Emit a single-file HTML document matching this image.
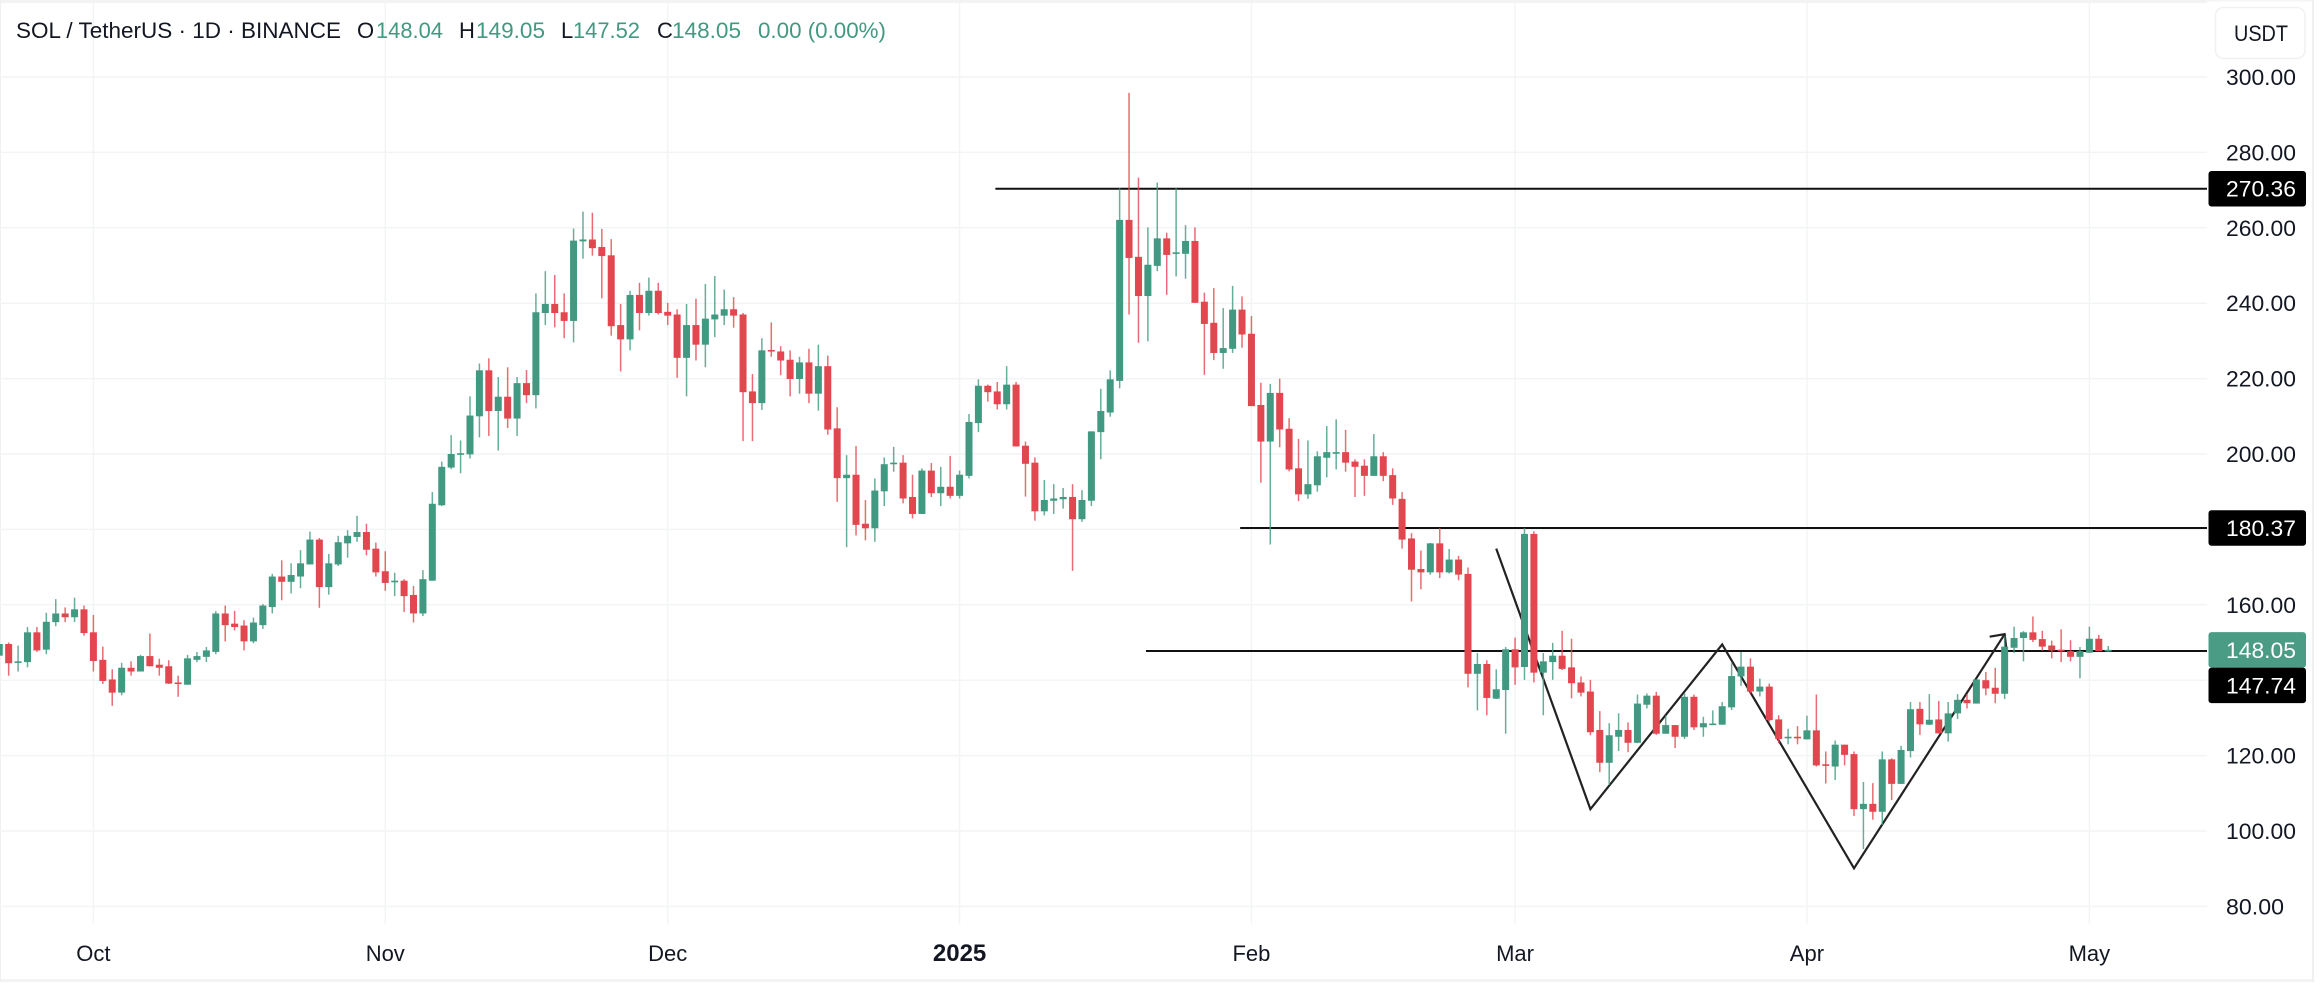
<!DOCTYPE html>
<html lang="en">
<head>
<meta charset="utf-8">
<title>SOL / TetherUS 1D chart</title>
<style>
html,body{margin:0;padding:0;background:#fff;width:2322px;height:988px;overflow:hidden}
svg{display:block;font-family:"Liberation Sans",sans-serif;filter:blur(0.35px)}
</style>
</head>
<body>
<svg id="chart" xmlns="http://www.w3.org/2000/svg" width="2322" height="988" viewBox="0 0 2322 988">
  <rect x="0" y="0" width="2322" height="988" fill="#ffffff"/>
  <rect x="0" y="0" width="2207" height="3" fill="#f3f3f3"/>
  <rect x="2207" y="0" width="106" height="1.5" fill="#f5f5f5"/>
  <rect x="0" y="979" width="2313" height="3" fill="#f3f3f3"/>
  <rect x="0" y="0" width="1" height="982" fill="#f0f0f0"/>
  <rect x="2312" y="0" width="2" height="982" fill="#f0f0f0"/>
  <g id="grid"></g>
  <g id="drawings"></g>
  <g id="candles"></g>
  <g id="yaxis"></g>
  <g id="xaxis"></g>

  <g font-size="22">
    <text x="16" y="38" fill="#131722" textLength="325" lengthAdjust="spacingAndGlyphs">SOL / TetherUS · 1D · BINANCE</text>
    <text x="357" y="38" fill="#131722">O</text>
    <text x="376" y="38" fill="#429981" textLength="67" lengthAdjust="spacingAndGlyphs">148.04</text>
    <text x="459" y="38" fill="#131722">H</text>
    <text x="476" y="38" fill="#429981" textLength="69" lengthAdjust="spacingAndGlyphs">149.05</text>
    <text x="561" y="38" fill="#131722">L</text>
    <text x="573" y="38" fill="#429981" textLength="67" lengthAdjust="spacingAndGlyphs">147.52</text>
    <text x="657" y="38" fill="#131722">C</text>
    <text x="672" y="38" fill="#429981" textLength="69" lengthAdjust="spacingAndGlyphs">148.05</text>
    <text x="758" y="38" fill="#429981" textLength="128" lengthAdjust="spacingAndGlyphs">0.00 (0.00%)</text>
  </g>

  <g>
    <rect x="2215.5" y="7.5" width="89.5" height="51" rx="8" fill="#ffffff" stroke="#f0f1f3" stroke-width="1.5"/>
    <text x="2234" y="41" font-size="22" fill="#131722" textLength="54" lengthAdjust="spacingAndGlyphs">USDT</text>
  </g>
</svg>

<script>
const opens = [146.5,149.6,144.8,144.8,152.7,148.1,155.4,157.7,156.7,158.8,
152.7,145.4,140.2,136.7,143.3,142.3,146.4,144.1,143.7,139.4,
138.8,145.4,146.2,147.5,157.7,155,154.5,150.3,154.6,159.4,
167.5,166.1,167.5,170.7,177.3,164.7,170.7,176.3,178,179.3,
174.9,168.9,166.1,166.4,162.6,157.7,166.4,186.4,196.4,199.9,
199.9,210,222.2,211.4,215.2,209.4,218.8,215.6,237.4,239.8,
237.6,235.3,256.4,256.9,254.9,252.7,234.2,230.4,242.2,237.4,
243.3,237.7,237,225.5,234.2,229,235.7,236.7,238.4,237,
216.6,213.5,227.6,227.2,225,219.9,224.3,216,223.3,206.8,
193.6,194.5,181.5,180.3,190.1,197.4,197.7,188.6,184.1,195.6,
189.6,191.3,188.9,194.2,208.2,218.1,216.6,213.2,218.4,202.2,
197.7,184.8,187.6,188,188.6,182.7,187.6,205.8,211,219.4,
262.1,252.3,241.9,249.9,257.2,253.1,253.1,256.5,240.4,234.8,
226.8,227.9,238.3,231.9,213,203.3,216.2,206.7,196.2,189.3,
191.7,199,200.2,200.5,198,196.9,194.2,199.4,194.4,188.1,
177.6,169.5,168.6,176.3,168.6,172,168.2,141.7,144.3,135.1,
137.4,148.2,143.5,178.8,142,144.8,146.5,143.4,139.4,137,
126.8,118.1,125,126.8,123.4,133.5,135.9,125.8,128.1,125,
135.6,127.5,128.1,128.2,132.8,141,143.6,137,138.3,129.6,
124.8,125,124.3,126.7,117.7,117.1,122.9,120.4,105.8,107.2,
105.1,119,112.5,121.2,132.4,128.2,129.6,125.9,131.2,134.8,
133.8,140,138,136.4,148.6,151.2,152.7,150.9,149.2,148.1,
147.7,146.2,147.3,151,148.04];

const closes = [149.6,144.5,145,152.7,147.9,155.5,157.7,156.7,158.8,152.5,
145.1,139.8,136.7,143.3,142.3,146.4,143.7,143.3,139.1,139.1,
145.8,146.4,147.9,157.7,154.6,154.1,150.3,155.3,159.8,167.5,
166.1,167.9,171,177.3,164.7,171,176.6,178.3,179.3,174.6,
168.6,165.8,166.4,162.3,157.7,166.8,186.8,196.6,200,200.2,
210.2,222.2,211.4,215.2,209.4,218.8,215.6,237.6,239.8,237.4,
235.3,256.6,256.9,254.6,252.5,233.9,230.4,242.2,237.4,243.3,
237.4,236.7,225.5,234.2,229,235.9,237,238.4,236.7,216.4,
213.5,227.5,227.3,224.8,219.9,224.3,216,223.3,206.5,193.6,
194.5,181.2,180.3,190.3,197.3,197.7,188.2,184.1,195.6,189.6,
191.3,188.9,194.5,208.5,218.1,216.4,213.2,218.4,202,197.4,
184.8,187.8,188.2,188.6,182.7,187.8,206,211.4,219.8,262.1,
252,241.9,250.2,257.2,252.8,253.5,256.5,240.1,234.5,226.8,
228.1,238.3,231.7,212.7,203.3,216.2,206.5,195.9,189.3,192,
199.4,200.5,200.5,197.7,196.6,194.2,199.4,194.2,188.2,177.3,
169.3,168.6,176.3,168.6,172,168,141.7,144.3,135.3,137.6,
148.2,143.4,178.8,142,145,146.5,143,139.2,136.7,126.2,
118.1,125.4,126.8,123.4,133.8,135.9,125.8,128.1,125,135.6,
127.5,128.6,128.5,133.1,141.1,143.6,137,138.3,129.4,124.4,
125,124.8,126.7,117.4,117.4,122.9,120.2,105.8,107.2,105.1,
119,112.5,121.5,132.3,128.3,129.5,125.9,131.2,134.8,133.9,
140.2,137.8,136.4,148.9,151.2,152.7,150.7,148.9,147.9,147.7,
146.2,147.7,151,147.7,148.05];

const highs = [150,150,149.2,154.1,154.1,157.9,161.5,159.3,161.9,159.8,
157.3,148.9,142.9,144.6,145,146.7,152.4,145.7,145.3,141.2,
146.7,147.5,148.8,158.3,159.8,158.4,155.9,156.6,160.2,168.2,
171.8,171,174.5,179.4,177.7,173.5,178.3,179.8,183.6,181.5,
176.5,174.2,168.5,166.8,165,169.2,189.9,198,205,203.6,
215.3,224,225.4,220.4,223,220.4,222.3,242.6,248.5,247.5,
242.6,259.8,264.3,264,259.7,257,239.8,243.3,245.4,246.8,
245.4,240.1,238.4,239.8,241.2,245.1,247.2,243.6,241.6,237.4,
221.2,230.7,234.9,228.6,227.5,225.8,227.9,229,226.1,212.4,
199.7,202.1,187.8,193.5,199.1,201.9,199.7,194.5,196.2,197.6,
196.6,199.5,195.6,210.6,219.8,218.4,219.1,223.3,219.1,203.3,
199.1,193.1,192,191,192,190.4,206,217.3,222.2,270.5,
295.8,273.3,260.1,272,258.7,270.5,260.7,260.1,242.8,244,
238.7,244.6,241.8,236.6,218.9,218.6,220,209.5,204,203.6,
200.7,207.4,209.2,206.4,198.6,198.6,205.3,200.5,196.2,189.9,
179,174.4,176.4,180.4,174.8,173,169.9,147.2,145.3,142.9,
148.8,151.3,180.4,179.5,147.2,149.9,153.1,151,141,140.1,
131.8,128.6,131.2,128.8,136.2,136.5,136.9,130.6,128.1,136.5,
136.2,130.3,132,134.2,144.5,147.5,145.8,140.4,139.1,130.7,
127.1,127.8,130.6,136.2,121.1,124,122.9,121.1,113,112.7,
121.1,119.3,122.6,134.2,134.2,136.3,134.5,134.2,136.3,136.3,
140.2,142.2,143.3,151.7,154.2,153,156.9,153.1,150.5,153.5,
150.6,148.8,154.2,152,149.05];

const lows = [146,141.2,142.3,143.4,147.5,146.9,154.3,155.4,155.4,151.8,
142.3,139,133.2,136,141.2,142.3,143.7,141.2,139,135.6,
138.8,144.8,144.8,146.9,150.3,153.2,147.9,149.8,153.6,157.7,
161.2,163,164.4,170.7,159.2,162.7,170.3,172.5,176.7,173.1,
167.5,163.7,162.3,158.1,155.3,157,166.4,186.2,196,194.9,
198.8,204.4,204.8,200.9,206.9,204.8,213.5,212.1,234.2,233.6,
230.7,229.6,251.8,252.6,241.3,231.4,221.9,227.5,232.8,236.7,
237,234.2,220.2,215.3,224.8,223,231,234.2,233.5,203.4,
203.4,211.7,225.8,220.9,215.3,216,213.5,211.5,205.1,187.3,
175.3,178.4,177.1,176.7,186.2,195.3,186.9,182.9,184.1,188.6,
186.2,188.2,188.2,193.5,205.8,213.9,211.8,211.8,202,188.7,
182.3,183.7,184.1,185.5,169,182,186.2,198.6,209.9,217.4,
237,229.5,229.9,248.5,242.2,247.1,246.5,240.1,221,224.9,
222.6,226.8,228.2,212.7,192.4,176,201.8,195.4,187.5,188.1,
190,193.8,195.9,195.3,188.6,188.9,194.2,192.8,186.5,174.9,
160.9,164.1,168,167.1,168.3,166.5,138.1,132,130.7,135,
125.8,138.8,140.1,139.4,130.7,140.1,142.7,135.2,135.7,125.4,
115.6,112.2,121.2,120.9,123.3,132.5,125.5,125.8,122,124.4,
126.8,125,128.1,128.2,132.1,138.5,136.5,135.7,129,123.3,
123,123,124.3,117.1,112.6,113.5,117.4,104,95.2,103,
101.6,108.2,112.5,119.5,125.5,128.1,125.9,123.7,129.7,132.5,
133.8,136,133.9,135,147.2,145,150.1,147.8,145.8,144.8,
145,140.5,147.2,147.7,147.52];

const priceTicks = [300,280,260,240,220,200,180,160,140,120,100,80];
const monthLabels = ["Oct","Nov","Dec","2025","Feb","Mar","Apr","May"];
const monthBarIndex = [10,41,71,102,133,161,192,222];
const lineLevels = [270.36,180.37,147.74];
const lineStartBars = [105.8,131.8,121.8];
const lastPrice = 148.05;
const zigzagBars = [159,169,183,197,213];
const zigzagPrices = [174.9,105.8,149.5,90.1,152.2];

const NS = "http://www.w3.org/2000/svg";
const paneRight = 2207;
const axisBottom = 924;
const UP = "#429981";
const DOWN = "#e2474f";
function xScale(bar){ return bar * 9.415 - 0.75; }
function yScale(price){ return 906.4 - (price - 80) * 3.77; }
function make(tag, attrs, parent){
  const el = document.createElementNS(NS, tag);
  for (const k in attrs) el.setAttribute(k, attrs[k]);
  parent.appendChild(el);
  return el;
}

const grid = document.getElementById("grid");
const drawings = document.getElementById("drawings");
const candles = document.getElementById("candles");
const yaxis = document.getElementById("yaxis");
const xaxis = document.getElementById("xaxis");

/* grid */
priceTicks.forEach(function(p){
  const el = make("line", {x1:0, x2:paneRight, y1:yScale(p), y2:yScale(p), stroke:"#f3f4f5", "stroke-width":1.5}, grid);
  
  
});
monthBarIndex.forEach(function(b){
  const el = make("line", {x1:xScale(b), x2:xScale(b), y1:3, y2:axisBottom, stroke:"#f3f4f5", "stroke-width":1.5}, grid);
  
  
});

/* horizontal level drawings */
lineLevels.forEach(function(level, i){
  const el = make("line", {x1:xScale(lineStartBars[i]), x2:paneRight, y1:yScale(level), y2:yScale(level), stroke:"#111111", "stroke-width":2}, drawings);
  
  
});

/* zigzag arrow drawing */
const zzPoints = zigzagBars.map(function(b, i){ return xScale(b) + "," + yScale(zigzagPrices[i]); }).join(" ");
const zz = make("polyline", {points:zzPoints, fill:"none", stroke:"#222222", "stroke-width":2.2, "stroke-linejoin":"miter"}, drawings);


const tipX = xScale(zigzagBars[zigzagBars.length - 1]);
const tipY = yScale(zigzagPrices[zigzagPrices.length - 1]);
const head = make("polyline", {points:(tipX - 15) + "," + (tipY + 2.5) + " " + tipX + "," + tipY + " " + (tipX + 1.5) + "," + (tipY + 13), fill:"none", stroke:"#222222", "stroke-width":2.2}, drawings);



/* candles */
opens.forEach(function(o, i){
  const c = closes[i];
  const color = c >= o ? UP : DOWN;
  const cx = xScale(i);
  const wick = make("line", {x1:cx, x2:cx, y1:yScale(highs[i]), y2:yScale(lows[i]), stroke:color, "stroke-width":1.5, "stroke-opacity":0.8}, candles);
  
  
  const top = yScale(Math.max(o, c));
  const h = Math.max(Math.abs(yScale(o) - yScale(c)), 1.6);
  const body = make("rect", {x:cx - 3.5, y:top, width:7, height:h, fill:color}, candles);
  
  
});

/* price axis boxes */
const boxH = 35.5;
const boxes = [
  {v:lineLevels[0], fill:"#000000", top:yScale(lineLevels[0]) - boxH / 2},
  {v:lineLevels[1], fill:"#000000", top:yScale(lineLevels[1]) - boxH / 2},
  {v:lastPrice, fill:"#4a9c85", top:yScale(lastPrice) - boxH / 2}
];
boxes.push({v:lineLevels[2], fill:"#000000", top:Math.max(yScale(lineLevels[2]) - boxH / 2, boxes[2].top + boxH)});

/* price tick labels, skipped where a level box covers them */
priceTicks.forEach(function(p){
  const y = yScale(p);
  const covered = boxes.some(function(b){ return y + 6 > b.top && y - 6 < b.top + boxH; });
  if (covered) return;
  const label = p.toFixed(2);
  const t = make("text", {x:2226, y:y + 8, "font-size":22, fill:"#131722", textLength:label.length === 6 ? 70 : 58, lengthAdjust:"spacingAndGlyphs"}, yaxis);
  t.textContent = label;
  
  
});

boxes.forEach(function(b){
  const r = make("rect", {x:2208.5, y:b.top, width:97.5, height:boxH, rx:3, fill:b.fill}, yaxis);
  
  
  const t = make("text", {x:2226, y:b.top + boxH / 2 + 8, "font-size":22, fill:"#ffffff", textLength:70, lengthAdjust:"spacingAndGlyphs"}, yaxis);
  t.textContent = b.v.toFixed(2);
  
  
});

/* time axis labels */
monthLabels.forEach(function(label, i){
  const bold = label === "2025";
  const t = make("text", {x:xScale(monthBarIndex[i]), y:961, "font-size":bold ? 24 : 22, "font-weight":bold ? "700" : "400", fill:"#131722", "text-anchor":"middle"}, xaxis);
  t.textContent = label;
  
  
});
</script>
</body>
</html>
